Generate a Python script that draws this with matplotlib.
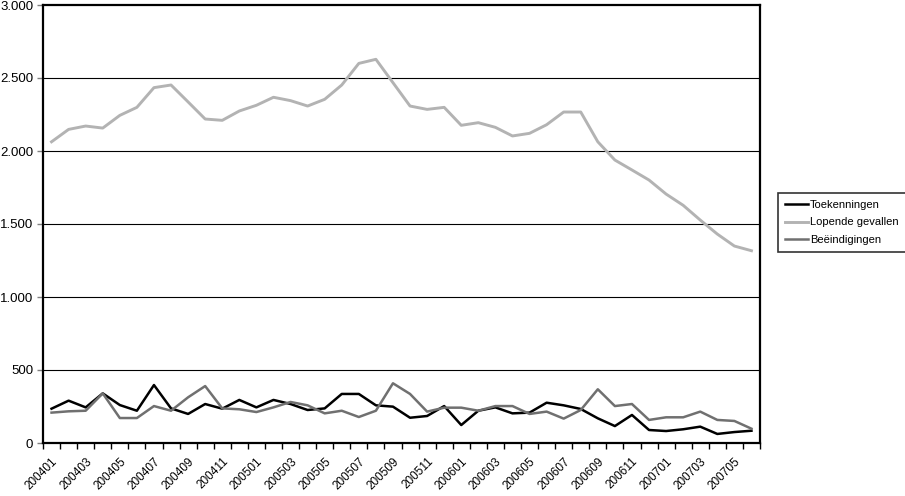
import matplotlib
matplotlib.use("Agg")
import matplotlib.pyplot as plt
from matplotlib.ticker import FuncFormatter, FixedLocator
import numpy as np

plt.rcParams['font.family'] = ['Liberation Sans', 'DejaVu Sans']

months = [f"{y}{m:02d}" for y in (2004, 2005, 2006, 2007) for m in range(1, 13)][:42]

toekenningen = [235, 290, 244, 340, 260, 221, 397, 237, 199, 267, 235, 295, 244, 295,
                267, 226, 237, 336, 336, 258, 249, 173, 185, 253, 123, 221, 244, 203,
                208, 276, 258, 233, 169, 116, 192, 89, 82, 94, 112, 62, 75, 84]
lopende = [2063, 2148, 2171, 2157, 2244, 2299, 2434, 2452, 2336, 2219, 2210, 2274, 2313, 2368,
           2345, 2308, 2354, 2452, 2600, 2628, 2468, 2308, 2285, 2299, 2176, 2194, 2162, 2103,
           2121, 2180, 2267, 2267, 2063, 1938, 1870, 1801, 1705, 1628, 1527, 1431, 1349, 1317]
beeindigingen = [208, 217, 221, 340, 171, 171, 253, 221, 313, 390, 237, 231, 212, 244,
                 281, 258, 203, 221, 178, 221, 409, 336, 215, 242, 242, 221, 253, 253,
                 199, 215, 167, 226, 368, 253, 267, 158, 176, 176, 215, 158, 151, 98]

fig = plt.figure(figsize=(9.05, 4.96), dpi=100)
ax = fig.add_axes([43/905, 1-443/496, (760-43)/905, (443-5)/496])

x = np.arange(len(months))
ax.plot(x, toekenningen, color='black', lw=1.8, label='Toekenningen', zorder=3)
ax.plot(x, lopende, color='#b3b3b3', lw=2.1, label='Lopende gevallen', zorder=3)
ax.plot(x, beeindigingen, color='#707070', lw=1.8, label='Beëindigingen', zorder=3)

ax.set_xlim(-0.5, len(months) - 0.5)
ax.set_ylim(0, 3000)
ax.set_yticks(np.arange(0, 3001, 500))
ax.yaxis.set_major_formatter(FuncFormatter(lambda v, p: f"{int(v):,}".replace(",", ".")))
for v in range(500, 3000, 500):
    ax.axhline(v, color='black', lw=0.8, zorder=1)

ax.xaxis.set_major_locator(FixedLocator(x[::2]))
ax.set_xticklabels(months[::2], rotation=45, ha='right', va='top', rotation_mode='anchor')
ax.xaxis.set_minor_locator(FixedLocator(np.arange(-0.5, len(months), 1)))
ax.tick_params(axis='x', which='major', length=0, pad=9, labelsize=8.5)
ax.tick_params(axis='x', which='minor', length=4, width=1, color='black')
ax.tick_params(axis='y', length=4, width=1, color='#808080', labelsize=9.5, pad=3)

for s in ax.spines.values():
    s.set_linewidth(1.6)
    s.set_color('black')

leg = fig.legend(loc='upper left', bbox_to_anchor=(778/905, 1-193/496), fontsize=8,
                 frameon=True, fancybox=False, edgecolor='black', borderpad=0.6,
                 handlelength=2.1, handletextpad=0.2, labelspacing=0.7, borderaxespad=0)
leg.get_frame().set_linewidth(1.2)

fig.savefig('out.png', dpi=100)
